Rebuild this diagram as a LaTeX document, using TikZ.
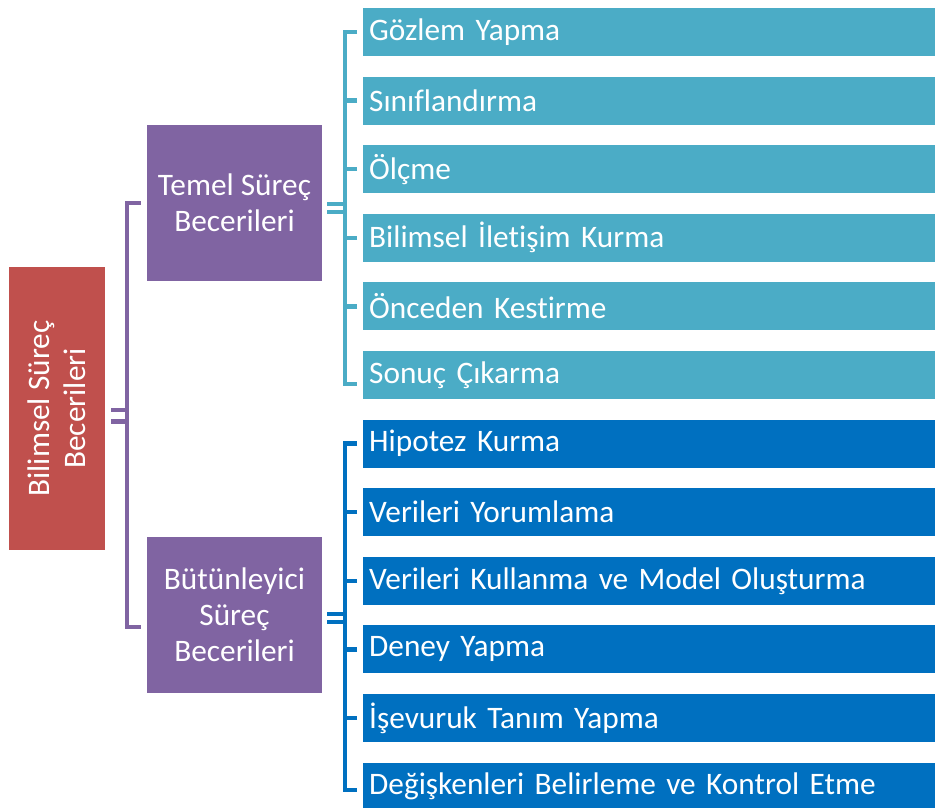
\documentclass[tikz,border=0pt]{standalone}
\usepackage{fontspec}
\setmainfont{Carlito}[Ligatures=NoCommon]
\usetikzlibrary{positioning}

\definecolor{rootred}{HTML}{C0504D}
\definecolor{groupviolet}{HTML}{8064A2}
\definecolor{basicteal}{HTML}{4BACC6}
\definecolor{integblue}{HTML}{0070C0}

\tikzset{
  skillfont/.style={font=\fontsize{31.3pt}{36pt}\selectfont},
  rootbox/.style={skillfont, fill=rootred, text=white, rotate=90, align=center,
    inner sep=0pt, minimum width=283pt, minimum height=96pt},
  groupbox/.style={skillfont, fill=groupviolet, text=white, align=center,
    inner sep=0pt, minimum width=175pt, minimum height=156pt},
  leaf/.style={skillfont, anchor=west, text=white, text width=560pt, align=left,
    inner xsep=6pt, inner ysep=0pt, minimum height=48pt},
  tealleaf/.style={leaf, fill=basicteal},
  blueleaf/.style={leaf, fill=integblue},
  violetline/.style={draw=groupviolet, line width=4.5pt},
  tealline/.style={draw=basicteal, line width=4.5pt},
  blueline/.style={draw=integblue, line width=4.5pt}
}

\begin{document}
\begin{tikzpicture}[x=1pt,y=-1pt]
   \useasboundingbox (0,0) rectangle (935,807);
   % root and groups
   \node[rootbox] (root) at (57,408.5) {Bilimsel Süreç\\Becerileri};
   \node[groupbox] (basic) at (234.5,203) {Temel Süreç\\Becerileri};
   \node[groupbox] (integ) at (234.5,615) {Bütünleyici\\Süreç\\Becerileri};
   % basic skills
   \node[tealleaf] (t1) at (363,32) {Gözlem Yapma};
   \node[tealleaf] (t2) at (363,100.6) {Sınıflandırma};
   \node[tealleaf] (t3) at (363,169.2) {Ölçme};
   \node[tealleaf] (t4) at (363,237.8) {Bilimsel İletişim Kurma};
   \node[tealleaf] (t5) at (363,306.4) {Önceden Kestirme};
   \node[tealleaf] (t6) at (363,375) {Sonuç Çıkarma};
   % integrated skills
   \node[blueleaf] (b1) at (363,443.6) {Hipotez Kurma};
   \node[blueleaf] (b2) at (363,512.2) {Verileri Yorumlama};
   \node[blueleaf] (b3) at (363,580.8) {Verileri Kullanma ve Model Oluşturma};
   \node[blueleaf] (b4) at (363,649.4) {Deney Yapma};
   \node[blueleaf] (b5) at (363,718) {İşevuruk Tanım Yapma};
   \node[blueleaf] (b6) at (363,786.6) {Değişkenleri Belirleme ve Kontrol Etme};

   % root bracket
   \coordinate (vtop) at (127,203);
   \coordinate (vbot) at (127,627);
   \draw[violetline] (root.south) ++(6,1.5) -- ++(18,0);
   \draw[violetline] (root.south) ++(6,13) -- ++(18,0);
   \draw[violetline] ([xshift=-6pt]basic.west) -- (vtop) -- (vbot) -- ++(14,0);

   % basic bracket
   \coordinate (tbot) at (345,384);
   \draw[tealline] (basic.east) ++(5,1) -- ++(20,0);
   \draw[tealline] (basic.east) ++(5,9) -- ++(20,0);
   \draw[tealline] ([xshift=-6pt]t1.west) -| (tbot) -- ++(12,0);
   \draw[tealline] (t2.west) ++(-6,0) -- ++(-14,0)  (t3.west) ++(-6,0) -- ++(-14,0)
                   (t4.west) ++(-6,0) -- ++(-14,0)  (t5.west) ++(-6,0) -- ++(-14,0);

   % integrated bracket
   \coordinate (bbot) at (345,790);
   \draw[blueline] (integ.east) ++(5,-1) -- ++(20,0);
   \draw[blueline] (integ.east) ++(5,7) -- ++(20,0);
   \draw[blueline] ([xshift=-6pt]b1.west) -| (bbot) -- ++(12,0);
   \draw[blueline] (b2.west) ++(-6,0) -- ++(-14,0)  (b3.west) ++(-6,0) -- ++(-14,0)
                   (b4.west) ++(-6,0) -- ++(-14,0)  (b5.west) ++(-6,0) -- ++(-14,0);
\end{tikzpicture}
\end{document}
